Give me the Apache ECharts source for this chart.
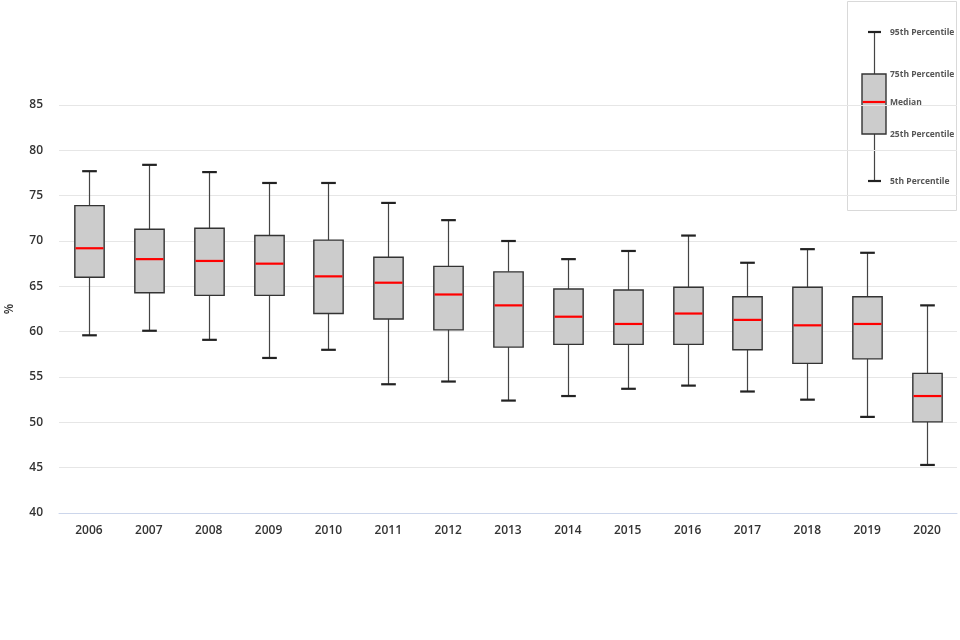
<!DOCTYPE html>
<html>
<head>
<meta charset="utf-8">
<script src="https://cdn.jsdelivr.net/npm/echarts@6/dist/echarts.min.js"></script>
<style>html,body{margin:0;padding:0;background:#fff}#c{width:960px;height:640px}</style>
</head>
<body>
<div id="c"></div>
<script>
var years = ['2006','2007','2008','2009','2010','2011','2012','2013','2014','2015','2016','2017','2018','2019','2020'];
var p5  = [59.6, 60.1, 59.1, 57.1, 58.0, 54.2, 54.5, 52.4, 52.9, 53.7, 54.05, 53.4, 52.5, 50.6, 45.3];
var p25 = [66.0, 64.3, 64.0, 64.0, 62.0, 61.4, 60.2, 58.3, 58.6, 58.6, 58.6, 58.0, 56.5, 57.0, 50.05];
var med = [69.2, 68.0, 67.8, 67.5, 66.1, 65.4, 64.1, 62.9, 61.65, 60.85, 62.0, 61.3, 60.7, 60.85, 52.9];
var p75 = [73.9, 71.3, 71.4, 70.6, 70.1, 68.2, 67.2, 66.6, 64.7, 64.6, 64.9, 63.85, 64.9, 63.85, 55.4];
var p95 = [77.7, 78.4, 77.6, 76.4, 76.4, 74.2, 72.3, 70.0, 68.0, 68.9, 70.6, 67.6, 69.1, 68.7, 62.9];
var yTicks = [40, 45, 50, 55, 60, 65, 70, 75, 80, 85];
var legendLabels = ['95th Percentile', '75th Percentile', 'Median', '25th Percentile', '5th Percentile'];

var data = years.map(function (y, i) { return [i, p5[i], p25[i], med[i], p75[i], p95[i]]; });

function renderBox(params, api) {
  var x = api.value(0);
  var lo = api.coord([x, api.value(1)]);
  var q1 = api.coord([x, api.value(2)]);
  var md = api.coord([x, api.value(3)]);
  var q3 = api.coord([x, api.value(4)]);
  var hi = api.coord([x, api.value(5)]);
  var band = api.size([1, 0])[0];
  var bw = band * 0.49;
  var cw = bw * 0.5;
  var cx = Math.round(lo[0]) + 0.5;
  var wStyle = { stroke: '#444', lineWidth: 1.2 };
  var cStyle = { stroke: '#222', lineWidth: 2.2 };
  return {
    type: 'group',
    children: [
      { type: 'line', shape: { x1: cx, y1: hi[1], x2: cx, y2: q3[1] }, style: wStyle },
      { type: 'line', shape: { x1: cx, y1: q1[1], x2: cx, y2: lo[1] }, style: wStyle },
      { type: 'line', shape: { x1: cx - cw / 2, y1: hi[1], x2: cx + cw / 2, y2: hi[1] }, style: cStyle },
      { type: 'line', shape: { x1: cx - cw / 2, y1: lo[1], x2: cx + cw / 2, y2: lo[1] }, style: cStyle },
      { type: 'rect', shape: { x: cx - bw / 2, y: q3[1], width: bw, height: q1[1] - q3[1] },
        style: { fill: '#cccccc', stroke: '#333', lineWidth: 1.4 } },
      { type: 'line', shape: { x1: cx - bw / 2 + 0.7, y1: md[1], x2: cx + bw / 2 - 0.7, y2: md[1] },
        style: { stroke: '#ff0000', lineWidth: 2.2 } }
    ]
  };
}

var lx = 874.5;
var legendY = [32, 74, 102, 134, 181];
var legendGraphics = [
  { type: 'rect', shape: { x: 847.5, y: 1.5, width: 109, height: 209 }, style: { fill: '#fff', stroke: '#d9d9d9', lineWidth: 1 } },
  { type: 'line', shape: { x1: lx, y1: legendY[0], x2: lx, y2: legendY[1] }, style: { stroke: '#444', lineWidth: 1.2 } },
  { type: 'line', shape: { x1: lx, y1: legendY[3], x2: lx, y2: legendY[4] }, style: { stroke: '#444', lineWidth: 1.2 } },
  { type: 'line', shape: { x1: lx - 6.5, y1: legendY[0], x2: lx + 6.5, y2: legendY[0] }, style: { stroke: '#222', lineWidth: 2.2 } },
  { type: 'line', shape: { x1: lx - 6.5, y1: legendY[4], x2: lx + 6.5, y2: legendY[4] }, style: { stroke: '#222', lineWidth: 2.2 } },
  { type: 'rect', shape: { x: 862, y: legendY[1], width: 24, height: legendY[3] - legendY[1] }, style: { fill: '#cccccc', stroke: '#333', lineWidth: 1.4 } },
  { type: 'line', shape: { x1: 862.7, y1: legendY[2], x2: 885.3, y2: legendY[2] }, style: { stroke: '#ff0000', lineWidth: 2.2 } }
];
legendLabels.forEach(function (t, i) {
  legendGraphics.push({ type: 'text', x: 890, y: legendY[i] + 0.5,
    style: { text: t, fill: '#555', fontSize: 8.5, fontWeight: 'bold', fontFamily: 'Open Sans, sans-serif', verticalAlign: 'middle' } });
});

var chart = echarts.init(document.getElementById('c'));
chart.setOption({
  animation: false,
  backgroundColor: '#fff',
  grid: { left: 59, right: 3, top: 105, bottom: 127, containLabel: false, outerBoundsMode: 'none' },
  xAxis: {
    type: 'category',
    data: years,
    axisLine: { lineStyle: { color: '#ccd6eb', width: 1 } },
    axisTick: { show: false },
    axisLabel: { color: '#333', fontSize: 12, fontWeight: 600, margin: 12, fontFamily: 'Open Sans, sans-serif' },
    splitLine: { show: false }
  },
  yAxis: {
    type: 'value',
    min: yTicks[0],
    max: yTicks[yTicks.length - 1],
    interval: yTicks[1] - yTicks[0],
    name: '%',
    nameLocation: 'middle',
    nameGap: 43,
    nameRotate: 90,
    nameTextStyle: { color: '#333', fontSize: 12, fontWeight: 600, fontFamily: 'Open Sans, sans-serif' },
    axisLine: { show: false },
    axisTick: { show: false },
    axisLabel: { color: '#333', fontSize: 12, fontWeight: 600, margin: 16, fontFamily: 'Open Sans, sans-serif' },
    splitLine: { lineStyle: { color: '#e6e6e6', width: 1 } }
  },
  series: [{
    type: 'custom',
    renderItem: renderBox,
    encode: { x: 0, y: [1, 2, 3, 4, 5] },
    data: data,
    z: 3
  }],
  graphic: legendGraphics
});
</script>
</body>
</html>
